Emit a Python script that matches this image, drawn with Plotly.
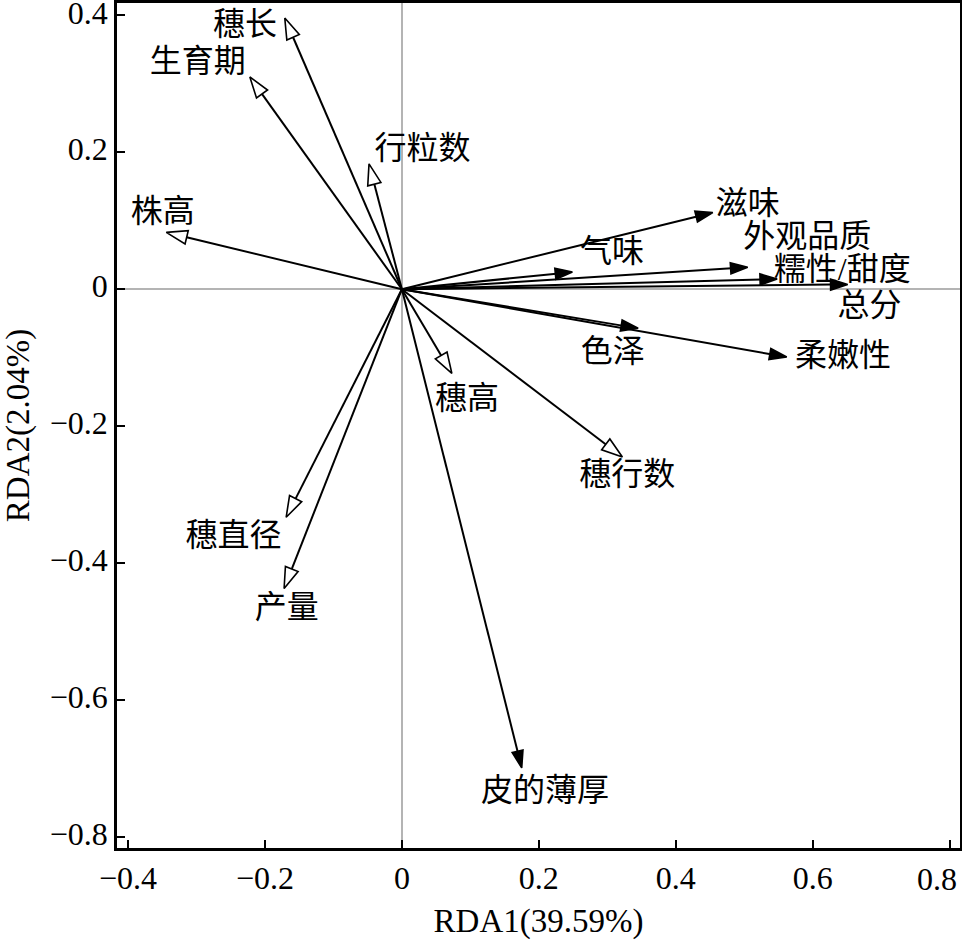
import plotly.graph_objects as go

# open-head arrows (agronomic traits)
agro_names = ['穗长', '生育期', '行粒数', '株高', '穗高', '穗行数', '穗直径', '产量']
agro_x = [-0.171, -0.222, -0.048, -0.344, 0.073, 0.322, -0.169, -0.172]
agro_y = [0.396, 0.310, 0.183, 0.083, -0.123, -0.245, -0.333, -0.437]
agro_lx = [-0.229, -0.298, 0.030, -0.349, 0.095, 0.329, -0.246, -0.168]
agro_ly = [0.383, 0.329, 0.202, 0.110, -0.163, -0.274, -0.364, -0.469]

# filled-head arrows (quality traits)
qual_names = ['滋味', '气味', '外观品质', '糯性/甜度', '总分', '色泽', '柔嫩性', '皮的薄厚']
qual_x = [0.454, 0.249, 0.505, 0.548, 0.651, 0.345, 0.562, 0.175]
qual_y = [0.112, 0.025, 0.032, 0.015, 0.007, -0.057, -0.099, -0.699]
qual_lx = [0.505, 0.307, 0.592, 0.643, 0.683, 0.308, 0.644, 0.209]
qual_ly = [0.121, 0.051, 0.074, 0.025, -0.028, -0.094, -0.101, -0.736]

xticks = [-0.4, -0.2, 0, 0.2, 0.4, 0.6, 0.8]
xticklabels = ['−0.4', '−0.2', '0', '0.2', '0.4', '0.6', '0.8']
yticks = [-0.8, -0.6, -0.4, -0.2, 0, 0.2, 0.4]
yticklabels = ['−0.8', '−0.6', '−0.4', '−0.2', '0', '0.2', '0.4']

font = 'Liberation Serif, Times New Roman, Noto Sans CJK SC'

fig = go.Figure()

def add_arrow(x, y, fill, size):
    fig.add_trace(go.Scatter(
        x=[0, x], y=[0, y],
        mode='lines+markers',
        line=dict(color='black', width=2),
        marker=dict(symbol='arrow', size=[0, size], angleref='previous', opacity=1,
                    color=fill, line=dict(color='black', width=1.6)),
        hoverinfo='skip', showlegend=False
    ))

for x, y in zip(qual_x, qual_y):
    add_arrow(x, y, '#000000', 18)
for x, y in zip(agro_x, agro_y):
    add_arrow(x, y, 'white', 22)

fig.add_trace(go.Scatter(
    x=agro_lx + qual_lx, y=agro_ly + qual_ly,
    text=agro_names + qual_names,
    mode='text', textfont=dict(size=32, color='black', family=font),
    hoverinfo='skip', showlegend=False
))

axis = dict(showgrid=False, zeroline=True, zerolinecolor='#b4b4b4', zerolinewidth=2,
            showline=True, linecolor='black', linewidth=2.5, mirror=True,
            ticks='inside', ticklen=8, tickwidth=2, tickcolor='black', automargin=False,
            ticklabeloverflow='allow',
            tickfont=dict(size=32, family=font, color='black'),
            title_font=dict(size=33, family=font, color='black'))

# last x tick label sits pulled in from the right edge, as in the original
fig.add_annotation(x=xticks[-1], y=0, xref='x', yref='paper', text=xticklabels[-1],
                   showarrow=False, xanchor='right', yanchor='top', xshift=9, yshift=-11,
                   font=dict(size=32, family=font, color='black'))

fig.update_layout(
    width=962, height=947,
    margin=dict(l=117, r=2, t=3, b=99),
    plot_bgcolor='white', paper_bgcolor='white',
    xaxis=dict(axis, range=[-0.416, 0.815], tickvals=xticks,
               ticktext=xticklabels[:-1] + [''],
               title_text='RDA1(39.59%)', title_standoff=14),
    yaxis=dict(axis, range=[-0.816, 0.418], tickvals=yticks, ticktext=yticklabels,
               ticklabelshift=-3, title_text='RDA2(2.04%)', title_standoff=12),
)

fig.write_html('out.html', config={'displayModeBar': False},
               post_script="document.body.style.margin='0';")
